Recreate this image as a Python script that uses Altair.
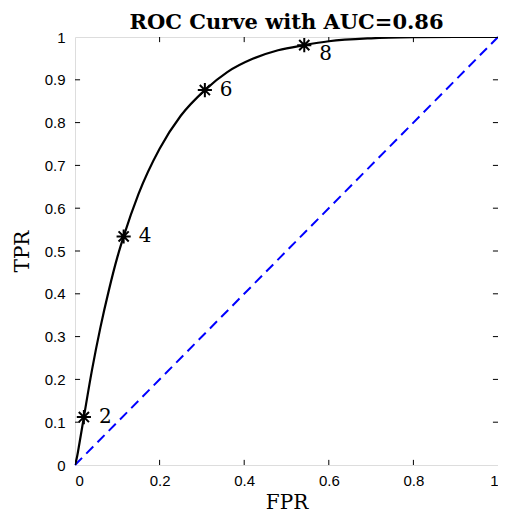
import altair as alt
import pandas as pd

# ROC curve
fpr = [0.0, 0.005, 0.01, 0.021, 0.04, 0.06, 0.08, 0.1, 0.115, 0.15, 0.2, 0.25, 0.307,
       0.36, 0.42, 0.48, 0.542, 0.6, 0.7, 0.8, 0.9, 1.0]
tpr = [0.0, 0.02, 0.048, 0.112, 0.221, 0.321, 0.408, 0.485, 0.534, 0.633, 0.739, 0.816, 0.876,
       0.918, 0.949, 0.969, 0.981, 0.990, 0.997, 0.9994, 1.0, 1.0]

# marked thresholds
mark_fpr = [0.021, 0.115, 0.307, 0.542]
mark_tpr = [0.112, 0.534, 0.876, 0.981]
mark_lbl = ["2", "4", "6", "8"]

# chance line
diag_x = [0.0, 1.0]
diag_y = [0.0, 1.0]

x_ticks = [0, 0.2, 0.4, 0.6, 0.8, 1]
y_ticks = [0, 0.1, 0.2, 0.3, 0.4, 0.5, 0.6, 0.7, 0.8, 0.9, 1]
x_tick_labels = ["0", "0.2", "0.4", "0.6", "0.8", "1"]
y_tick_labels = ["0", "0.1", "0.2", "0.3", "0.4", "0.5", "0.6", "0.7", "0.8", "0.9", "1"]

W, H = 423, 428
TL = 0.012  # inner tick length in data units

curve_df = pd.DataFrame({"FPR": fpr, "TPR": tpr, "order": range(len(fpr))})
marks_df = pd.DataFrame({"FPR": mark_fpr, "TPR": mark_tpr, "label": mark_lbl})
diag_df = pd.DataFrame({"FPR": diag_x, "TPR": diag_y})

xlabel_expr = "{" + ",".join(f"'{v}':'{l}'" for v, l in zip(x_ticks, x_tick_labels)) + "}[datum.value]"
ylabel_expr = "{" + ",".join(f"'{v}':'{l}'" for v, l in zip(y_ticks, y_tick_labels)) + "}[datum.value]"

xscale = alt.Scale(domain=[0, 1], nice=False, zero=False)
yscale = alt.Scale(domain=[0, 1], nice=False, zero=False)

xaxis = alt.Axis(values=x_ticks, labelExpr=xlabel_expr, tickSize=0, domain=False, grid=False,
                 labelFont="Liberation Sans", labelFontSize=15, labelColor="black",
                 labelPadding=8, title="FPR", titleFont="DejaVu Serif", titleFontSize=20,
                 titleFontWeight="normal", titleColor="black", titlePadding=4)
yaxis = alt.Axis(values=y_ticks, labelExpr=ylabel_expr, tickSize=0, domain=False, grid=False,
                 labelFont="Liberation Sans", labelFontSize=15, labelColor="black",
                 labelPadding=10, title="TPR", titleFont="DejaVu Serif", titleFontSize=20,
                 titleFontWeight="normal", titleColor="black", titlePadding=12)

base_x = alt.X("FPR:Q", scale=xscale, axis=xaxis)
base_y = alt.Y("TPR:Q", scale=yscale, axis=yaxis)

diag = alt.Chart(diag_df).mark_line(color="#0000ff", strokeWidth=2, strokeDash=[10, 6]).encode(
    x=base_x, y=base_y)

curve = alt.Chart(curve_df).mark_line(color="black", strokeWidth=2.2, interpolate="monotone", clip=True).encode(
    x=alt.X("FPR:Q", scale=xscale), y=alt.Y("TPR:Q", scale=yscale), order="order:Q")

star = "M-1,0L1,0M0,-1L0,1M-0.72,-0.72L0.72,0.72M-0.72,0.72L0.72,-0.72"
pts = alt.Chart(marks_df).mark_point(shape=star, size=200, filled=False, color="black",
                                     strokeWidth=2, opacity=1).encode(
    x=alt.X("FPR:Q", scale=xscale), y=alt.Y("TPR:Q", scale=yscale))

lbl_a = alt.Chart(marks_df).transform_filter("datum.label != '8'").mark_text(
    align="left", baseline="middle", dx=15, font="DejaVu Serif", fontSize=20, color="black").encode(
    x=alt.X("FPR:Q", scale=xscale), y=alt.Y("TPR:Q", scale=yscale), text="label:N")
lbl_b = alt.Chart(marks_df).transform_filter("datum.label == '8'").mark_text(
    align="left", baseline="middle", dx=15, dy=9, font="DejaVu Serif", fontSize=20, color="black").encode(
    x=alt.X("FPR:Q", scale=xscale), y=alt.Y("TPR:Q", scale=yscale), text="label:N")

# inner ticks on all four sides
xt = pd.DataFrame({"v": x_ticks[1:-1]})
yt = pd.DataFrame({"v": y_ticks[1:-1]})
tick_bottom = alt.Chart(xt).mark_rule(color="black", strokeWidth=1).encode(
    x=alt.X("v:Q", scale=xscale), y=alt.datum(0, scale=yscale), y2=alt.datum(TL))
tick_top = alt.Chart(xt).mark_rule(color="black", strokeWidth=1).encode(
    x=alt.X("v:Q", scale=xscale), y=alt.datum(1, scale=yscale), y2=alt.datum(1 - TL))
tick_left = alt.Chart(yt).mark_rule(color="black", strokeWidth=1).encode(
    y=alt.Y("v:Q", scale=yscale), x=alt.datum(0, scale=xscale), x2=alt.datum(TL))
tick_right = alt.Chart(yt).mark_rule(color="black", strokeWidth=1).encode(
    y=alt.Y("v:Q", scale=yscale), x=alt.datum(1, scale=xscale), x2=alt.datum(1 - TL))

chart = alt.layer(diag, tick_bottom, tick_top, tick_left, tick_right, curve, pts, lbl_a, lbl_b).properties(
    width=W, height=H,
    title=alt.TitleParams("ROC Curve with AUC=0.86", font="DejaVu Serif", fontSize=21,
                          fontWeight="bold", color="black", offset=-3, anchor="middle"),
    padding={"left": 67, "top": 29, "right": 0, "bottom": 47},
    autosize=alt.AutoSizeParams(type="none"),
).configure_view(stroke="black", strokeWidth=1).configure(background="white")

chart.save("out.html", embed_options={"renderer": "svg", "actions": False})
